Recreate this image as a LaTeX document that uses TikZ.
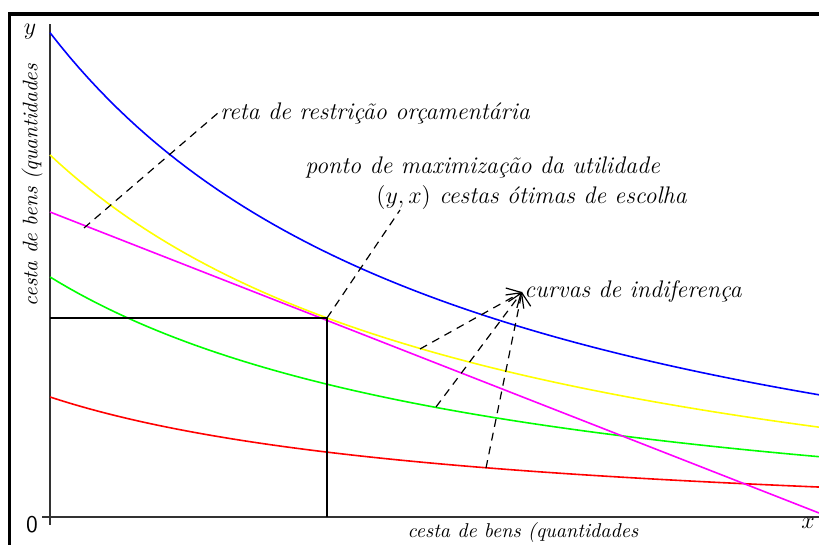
\documentclass[tikz,border=0pt]{standalone}
\usepackage{fontspec}
\usepackage{tikz}
\usetikzlibrary{positioning}
\usetikzlibrary{arrows.meta}
\definecolor{icblue}{RGB}{0,0,255}
\definecolor{icyellow}{RGB}{255,255,0}
\definecolor{icgreen}{RGB}{0,255,0}
\definecolor{icred}{RGB}{255,0,0}
\definecolor{budget}{RGB}{255,0,255}

\begin{document}
\begin{tikzpicture}[
  x=50pt, y=50pt,
  font=\large\itshape,
  frame/.style={line width=1.6pt},
  axis/.style={line width=1pt, black!80},
  curve/.style={line width=0.8pt},
  guide/.style={line width=0.7pt},
  dashedline/.style={line width=0.6pt, dash pattern=on 4pt off 3pt},
  dashedarrow/.style={dashedline, -{Straight Barb[length=2mm]}},
  lbl/.style={inner sep=1pt}
]
\useasboundingbox (-0.50,-0.28) rectangle (7.69,5.17);

% frame and axes
\draw[frame] (-0.405,-0.28) -- (-0.405,5.03) -- (7.69,5.03);
\draw[axis] (0,-0.08) -- (0,4.93);
\draw[axis] (-0.08,0) -- (7.69,0);

% indifference curves
\draw[curve, icblue] plot[domain=0:7.69, samples=80] (\x, {25.05/(\x+4.40)-0.85});
\draw[curve, icyellow] plot[domain=0:7.69, samples=80] (\x, {20.35/(\x+4.656)-0.75});
\draw[curve, icgreen] plot[domain=0:7.69, samples=80] (\x, {13.69/(\x+4.72)-0.50});
\draw[curve, icred] plot[domain=0:7.69, samples=80] (\x, {5.971/(\x+4.265)-0.20});

% budget line
\coordinate (budgetTop) at (0,3.05);
\coordinate (budgetEnd) at (7.69,0.04);
\draw[curve, budget] (budgetTop) -- (budgetEnd);

% optimum
\coordinate (opt) at (2.77,1.99);
\coordinate (optY) at (0,1.99);
\coordinate (optX) at (2.77,0);
\draw[guide] (optY) -- (opt) -- (optX);

% labels
\node[lbl, anchor=west] (reta) at (1.68,4.04) {reta de restrição orçamentária};
\node[lbl, anchor=west] (ponto) at (2.53,3.49) {ponto de maximização da utilidade};
\node[lbl, anchor=west] (cestas) at (3.24,3.19) {$\big(y,x\big)$ cestas ótimas de escolha};
\node[lbl, anchor=west] (curvas) at (4.72,2.25) {curvas de indiferença};

\coordinate (retaFoot) at (0.34,2.89);
\coordinate (cestasFoot) at (3.50,3.07);
\draw[dashedline] (retaFoot) -- (reta.west);
\draw[dashedline] (opt) -- (cestasFoot);

\coordinate (onYellow) at (3.70,1.68);
\coordinate (onGreen) at (3.86,1.10);
\coordinate (onRed) at (4.36,0.49);
\foreach \p in {onYellow,onGreen,onRed}
  \draw[dashedarrow] (\p) -- (curvas.west);

% axis names
\node[lbl] (ylab) at (-0.20,4.85) {$y$};
\node[lbl, rotate=90, font=\fontsize{10.5}{12}\selectfont\itshape] (yname) at (-0.18,3.32) {cesta de bens (quantidades};
\node[lbl, font=\large\sffamily] (orig) at (-0.18,-0.08) {0};
\node[lbl] (xlab) at (7.58,-0.06) {$x$};
\node[lbl, font=\normalsize\itshape] (xname) at (4.73,-0.16) {cesta de bens (quantidades};

\end{tikzpicture}
\end{document}
